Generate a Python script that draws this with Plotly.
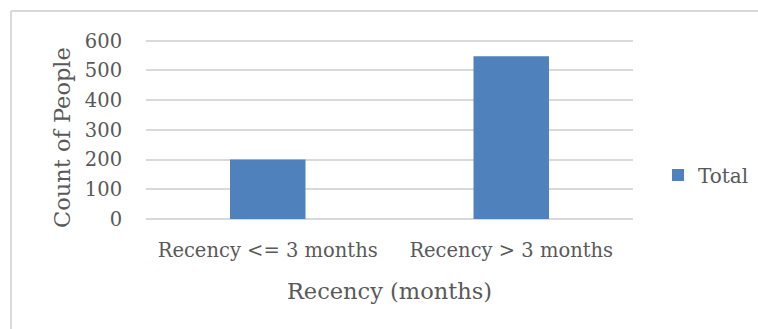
import plotly.graph_objects as go

categories = ["Recency <= 3 months", "Recency > 3 months"]
counts = [200, 548]
series_name = "Total"
y_ticks = [0, 100, 200, 300, 400, 500, 600]

FONT = "DejaVu Serif"
TEXT = "#595959"
GRID = "#D9D9D9"
BAR = "#4F81BD"

fig = go.Figure(
    go.Bar(
        x=categories,
        y=counts,
        name=series_name,
        marker=dict(color=BAR, line=dict(width=0)),
        showlegend=True,
    )
)

# plot area size in pixels
PW, PH = 487, 180

fig.update_layout(
    width=758,
    height=329,
    margin=dict(l=146, r=125, t=39, b=110, autoexpand=False),
    paper_bgcolor="white",
    plot_bgcolor="white",
    bargap=0.69,
    font=dict(family=FONT, color=TEXT),
    showlegend=True,
    legend=dict(
        xref="container", yref="container",
        x=658 / 758, y=1 - 175 / 329, xanchor="left", yanchor="middle",
        font=dict(family=FONT, size=20, color=TEXT),
        itemwidth=30,
        bgcolor="rgba(0,0,0,0)",
    ),
    xaxis=dict(
        showgrid=False,
        showline=False,
        zeroline=False,
        automargin=False,
        tickfont=dict(family=FONT, size=19.5, color=TEXT),
        ticks="outside", ticklen=14, tickcolor="rgba(0,0,0,0)",
        title=dict(text="Recency (months)", font=dict(family=FONT, size=22.5, color=TEXT), standoff=21),
    ),
    yaxis=dict(
        range=[0, 606],
        tickvals=y_ticks,
        automargin=False,
        showgrid=True, gridcolor=GRID, gridwidth=2,
        zeroline=True, zerolinecolor=GRID, zerolinewidth=2,
        showline=False,
        tickfont=dict(family=FONT, size=19.5, color=TEXT),
        ticks="outside", ticklen=19, tickcolor="rgba(0,0,0,0)",
    ),
    annotations=[
        dict(text="Count of People", textangle=-90,
             xref="paper", yref="paper",
             x=(62 - 146) / PW, y=(219 - 138) / PH,
             xanchor="center", yanchor="middle", showarrow=False,
             font=dict(family=FONT, size=22.5, color=TEXT)),
    ],
    shapes=[
        dict(type="line", xref="paper", yref="paper",
             x0=-135 / PW, x1=620 / PW, y0=1 + 28 / PH, y1=1 + 28 / PH,
             line=dict(color=GRID, width=2)),
        dict(type="line", xref="paper", yref="paper",
             x0=-135 / PW, x1=-135 / PW, y0=1 + 28 / PH, y1=-120 / PH,
             line=dict(color=GRID, width=2)),
    ],
)

fig.write_html("out.html")
